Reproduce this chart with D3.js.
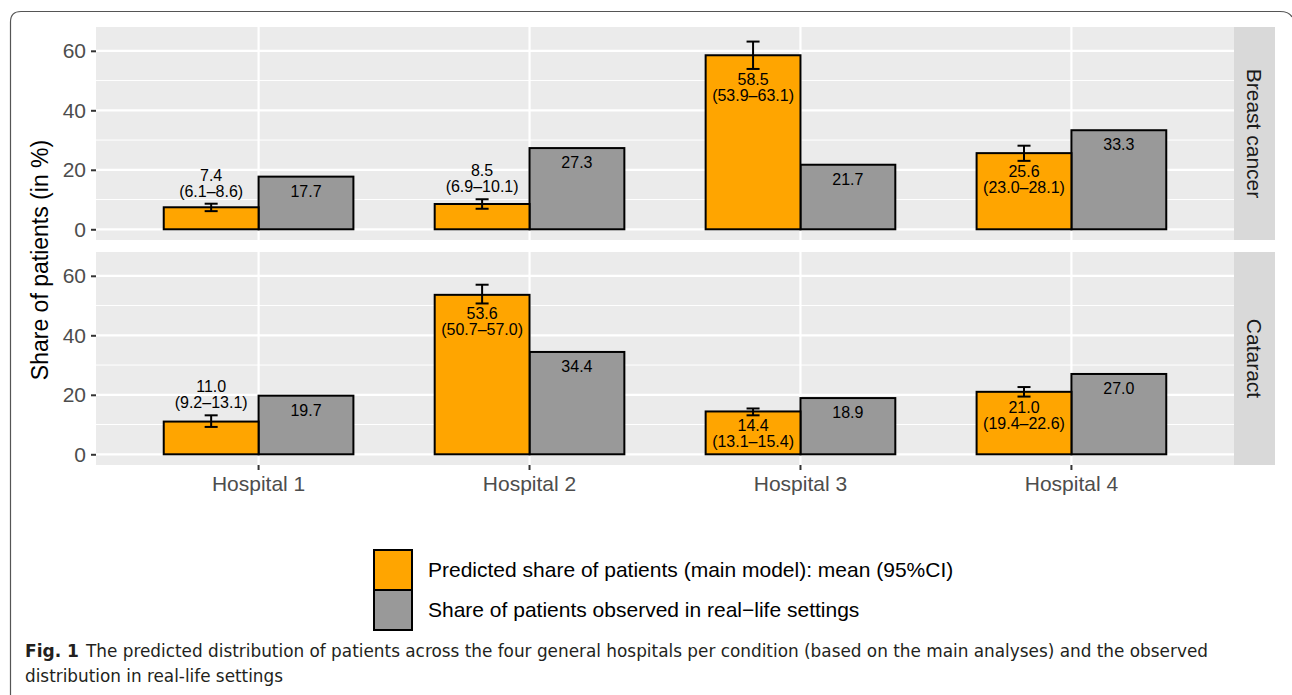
<!DOCTYPE html>
<html>
<head>
<meta charset="utf-8">
<script src="https://cdn.jsdelivr.net/npm/d3@7"></script>
<style>
  body { margin: 0; background: #fff; }
  svg { display: block; font-family: "Liberation Sans", Arial, sans-serif; }
</style>
</head>
<body>
<svg id="chart" width="1292" height="695"></svg>
<script>
const hospitals = ["Hospital 1", "Hospital 2", "Hospital 3", "Hospital 4"];
const conditions = ["Breast cancer", "Cataract"];

const breastPred = [7.4, 8.5, 58.5, 25.6];
const breastLower = [6.1, 6.9, 53.9, 23.0];
const breastUpper = [8.6, 10.1, 63.1, 28.1];
const breastObs = [17.7, 27.3, 21.7, 33.3];
const breastLabelAbove = [true, true, false, false];

const cataractPred = [11.0, 53.6, 14.4, 21.0];
const cataractLower = [9.2, 50.7, 13.1, 19.4];
const cataractUpper = [13.1, 57.0, 15.4, 22.6];
const cataractObs = [19.7, 34.4, 18.9, 27.0];
const cataractLabelAbove = [true, false, false, false];

const yTicks = [0, 20, 40, 60];
const yMinor = [10, 30, 50];

const legendLabels = [
  "Predicted share of patients (main model): mean (95%CI)",
  "Share of patients observed in real\u2212life settings"
];

const colPred = "#FFA500";
const colObs = "#999999";

const svg = d3.select("#chart");

// outer frame of the figure
svg.append("path")
  .attr("d", "M10.5,695 L10.5,22 Q10.5,11.5 21,11.5 L1280,11.5 Q1289,11.5 1292,17")
  .attr("fill", "none")
  .attr("stroke", "#555")
  .attr("stroke-width", 1.2);

const panels = [
  { name: conditions[0], pred: breastPred, lo: breastLower, hi: breastUpper, obs: breastObs, above: breastLabelAbove, top: 27, bottom: 240 },
  { name: conditions[1], pred: cataractPred, lo: cataractLower, hi: cataractUpper, obs: cataractObs, above: cataractLabelAbove, top: 252, bottom: 465 }
];

const left = 96, right = 1234, stripW = 41;
const x = d3.scaleLinear().domain([-0.6, hospitals.length - 0.4]).range([left, right]);
const barW = 0.35;
const axisFont = 21;
const labFont = 16;
const labLine = 16;

panels.forEach((p, pi) => {
  const y = d3.scaleLinear().domain([-3.6, 68.0]).range([p.bottom, p.top]);
  const g = svg.append("g");

  g.append("rect")
    .attr("x", left).attr("y", p.top)
    .attr("width", right - left).attr("height", p.bottom - p.top)
    .attr("fill", "#ebebeb");

  g.selectAll(".minor").data(yMinor).enter().append("line")
    .attr("x1", left).attr("x2", right)
    .attr("y1", d => y(d)).attr("y2", d => y(d))
    .attr("stroke", "#fff").attr("stroke-width", 1);

  g.selectAll(".major").data(yTicks).enter().append("line")
    .attr("x1", left).attr("x2", right)
    .attr("y1", d => y(d)).attr("y2", d => y(d))
    .attr("stroke", "#fff").attr("stroke-width", 2.2);

  g.selectAll(".vgrid").data(hospitals).enter().append("line")
    .attr("x1", (d, i) => x(i)).attr("x2", (d, i) => x(i))
    .attr("y1", p.top).attr("y2", p.bottom)
    .attr("stroke", "#fff").attr("stroke-width", 2.2);

  // y axis
  const yAxis = d3.axisLeft(y).tickValues(yTicks).tickSize(5).tickPadding(5);
  const ya = g.append("g").attr("transform", `translate(${left},0)`).call(yAxis);
  ya.attr("font-family", null).attr("font-size", null);
  ya.select(".domain").remove();
  ya.selectAll(".tick line").attr("stroke", "#333").attr("stroke-width", 2);
  ya.selectAll(".tick text").attr("fill", "#4d4d4d").attr("font-size", axisFont);

  // bars
  g.selectAll(".obs").data(p.obs).enter().append("rect")
    .attr("x", (d, i) => x(i)).attr("width", (d, i) => x(i + barW) - x(i))
    .attr("y", d => y(d)).attr("height", d => y(0) - y(d))
    .attr("fill", colObs).attr("stroke", "#000").attr("stroke-width", 2);

  g.selectAll(".pred").data(p.pred).enter().append("rect")
    .attr("x", (d, i) => x(i - barW)).attr("width", (d, i) => x(i) - x(i - barW))
    .attr("y", d => y(d)).attr("height", d => y(0) - y(d))
    .attr("fill", colPred).attr("stroke", "#000").attr("stroke-width", 2);

  // error bars
  const cx = i => x(i - barW / 2);
  const capHalf = 0.024;
  p.pred.forEach((d, i) => {
    const eg = g.append("g").attr("stroke", "#000").attr("stroke-width", 2);
    eg.append("line").attr("x1", cx(i)).attr("x2", cx(i)).attr("y1", y(p.lo[i])).attr("y2", y(p.hi[i]));
    eg.append("line").attr("x1", x(i - barW / 2 - capHalf)).attr("x2", x(i - barW / 2 + capHalf)).attr("y1", y(p.lo[i])).attr("y2", y(p.lo[i]));
    eg.append("line").attr("x1", x(i - barW / 2 - capHalf)).attr("x2", x(i - barW / 2 + capHalf)).attr("y1", y(p.hi[i])).attr("y2", y(p.hi[i]));
  });

  // labels for predicted bars: above the error bar for small bars, inside otherwise
  p.pred.forEach((d, i) => {
    const base = p.above[i] ? y(p.hi[i]) - 7 - labLine : y(p.lo[i]) + 16;
    const t = g.append("text").attr("text-anchor", "middle").attr("font-size", labFont).attr("fill", "#000");
    t.append("tspan").attr("x", cx(i)).attr("y", base).text(d.toFixed(1));
    t.append("tspan").attr("x", cx(i)).attr("y", base + labLine)
      .text(`(${p.lo[i].toFixed(1)}\u2013${p.hi[i].toFixed(1)})`);
  });

  // labels for observed bars
  g.selectAll(".obsLab").data(p.obs).enter().append("text")
    .attr("x", (d, i) => x(i + barW / 2)).attr("y", d => y(d) + 20)
    .attr("text-anchor", "middle").attr("font-size", labFont).attr("fill", "#000")
    .text(d => d.toFixed(1));

  // strip
  g.append("rect")
    .attr("x", right).attr("y", p.top).attr("width", stripW).attr("height", p.bottom - p.top)
    .attr("fill", "#d9d9d9");
  g.append("text")
    .attr("transform", `translate(${right + stripW / 2},${(p.top + p.bottom) / 2}) rotate(90)`)
    .attr("text-anchor", "middle").attr("dy", "0.35em")
    .attr("font-size", axisFont).attr("fill", "#1a1a1a")
    .text(p.name);

  if (pi === panels.length - 1) {
    const xa = g.append("g").attr("transform", `translate(0,${p.bottom})`);
    xa.selectAll("line").data(hospitals).enter().append("line")
      .attr("x1", (d, i) => x(i)).attr("x2", (d, i) => x(i))
      .attr("y1", 0).attr("y2", 5).attr("stroke", "#333").attr("stroke-width", 2);
    xa.selectAll("text").data(hospitals).enter().append("text")
      .attr("x", (d, i) => x(i)).attr("y", 26)
      .attr("text-anchor", "middle").attr("font-size", axisFont).attr("fill", "#4d4d4d")
      .text(d => d);
  }
});

// y axis title
svg.append("text")
  .attr("transform", `translate(48,260) rotate(-90)`)
  .attr("text-anchor", "middle")
  .attr("font-size", 23).attr("fill", "#000")
  .text("Share of patients (in %)");

// legend
const legend = svg.append("g").attr("transform", "translate(374,550)");
[colPred, colObs].forEach((c, i) => {
  legend.append("rect")
    .attr("x", 0).attr("y", i * 40).attr("width", 38).attr("height", 40)
    .attr("fill", c).attr("stroke", "#000").attr("stroke-width", 2);
  legend.append("text")
    .attr("x", 54).attr("y", i * 40 + 20).attr("dy", "0.35em")
    .attr("font-size", axisFont).attr("fill", "#000")
    .text(legendLabels[i]);
});

// caption
const cap = svg.append("g").attr("font-family", "'DejaVu Sans Condensed', 'Liberation Sans Narrow', 'Open Sans', sans-serif")
  .attr("fill", "#231f20").attr("font-size", 17);
cap.append("text").attr("x", 25).attr("y", 657).attr("font-weight", "bold")
  .attr("textLength", 54).attr("lengthAdjust", "spacingAndGlyphs").text("Fig. 1");
cap.append("text").attr("x", 86).attr("y", 657)
  .attr("textLength", 1122).attr("lengthAdjust", "spacingAndGlyphs")
  .text("The predicted distribution of patients across the four general hospitals per condition (based on the main analyses) and the observed");
cap.append("text").attr("x", 25).attr("y", 682)
  .attr("textLength", 258).attr("lengthAdjust", "spacingAndGlyphs")
  .text("distribution in real-life settings");
</script>
</body>
</html>
